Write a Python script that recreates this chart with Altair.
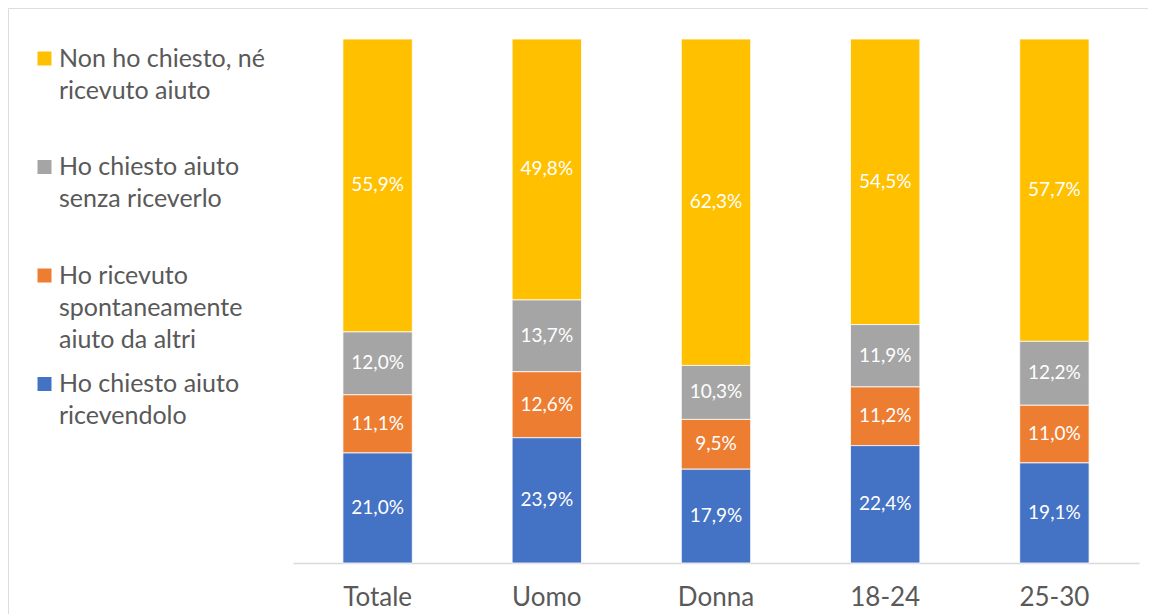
import altair as alt
import pandas as pd

categories = ["Totale", "Uomo", "Donna", "18-24", "25-30"]
series = [
    "Non ho chiesto, né|ricevuto aiuto|",
    "Ho chiesto aiuto|senza riceverlo|",
    "Ho ricevuto|spontaneamente|aiuto da altri",
    "Ho chiesto aiuto|ricevendolo|",
]
non_chiesto_ne_ricevuto = [55.9, 49.8, 62.3, 54.5, 57.7]
chiesto_senza_riceverlo = [12.0, 13.7, 10.3, 11.9, 12.2]
ricevuto_spontaneamente = [11.1, 12.6, 9.5, 11.2, 11.0]
chiesto_ricevendolo = [21.0, 23.9, 17.9, 22.4, 19.1]
colors = ["#FFC000", "#A5A5A5", "#ED7D31", "#4472C4"]
stack_order = [4, 3, 2, 1]

values = [non_chiesto_ne_ricevuto, chiesto_senza_riceverlo,
          ricevuto_spontaneamente, chiesto_ricevendolo]
rows = []
for s, vals, o in zip(series, values, stack_order):
    for c, v in zip(categories, vals):
        rows.append({"cat": c, "serie": s, "val": v, "ord": o,
                     "lab": f"{v:.1f}%".replace(".", ",")})
df = pd.DataFrame(rows)

W, H = 1140, 606
FONT = "Lato"
xscale = alt.Scale(domain=categories, range=[285, 1131], paddingInner=0.59, paddingOuter=0.295)
yscale = alt.Scale(domain=[0, 100], range=[555, 31], nice=False, zero=True)

base = alt.Chart(df).transform_stack(
    stack="val", groupby=["cat"], as_=["y0", "y1"], sort=[alt.SortField("ord")]
).transform_calculate(mid="(datum.y0 + datum.y1) / 2")

bars = base.mark_bar(stroke="#ffffff", strokeWidth=0.8).encode(
    x=alt.X("cat:N", scale=xscale, sort=categories,
            axis=alt.Axis(title=None, orient="bottom", offset=-(H - 555), ticks=False,
                          domainColor="#D9D9D9", domainWidth=1.5, labelAngle=0,
                          labelFont=FONT, labelFontSize=26, labelColor="#595959",
                          labelPadding=21, grid=False)),
    y=alt.Y("y0:Q", scale=yscale, axis=None),
    y2="y1:Q",
    color=alt.Color("serie:N", scale=alt.Scale(domain=series, range=colors),
                    legend=alt.Legend(title=None, orient="none", legendX=24, legendY=38,
                                      direction="vertical", symbolType="square",
                                      symbolSize=196, symbolStrokeWidth=0,
                                      labelFont=FONT, labelFontSize=25,
                                      labelColor="#595959", labelLimit=400,
                                      labelOffset=2, rowPadding=18.5, padding=0,
                                      labelExpr="split(datum.label, '|')")),
)

labels = base.mark_text(color="white", font=FONT, fontSize=19).encode(
    x=alt.X("cat:N", scale=xscale, sort=categories),
    y=alt.Y("mid:Q", scale=yscale),
    text="lab:N",
)

chart = alt.layer(bars, labels).properties(
    width=W, height=H, autosize=alt.AutoSizeParams(type="none"), padding=0
).configure_view(
    stroke="#D9D9D9", strokeWidth=1.5, strokeDash=[W, W + H, H]
).configure(
    style={"guide-label": {"lineHeight": 32}}
)

chart.save("out.html", embed_options={"renderer": "svg", "actions": False})
